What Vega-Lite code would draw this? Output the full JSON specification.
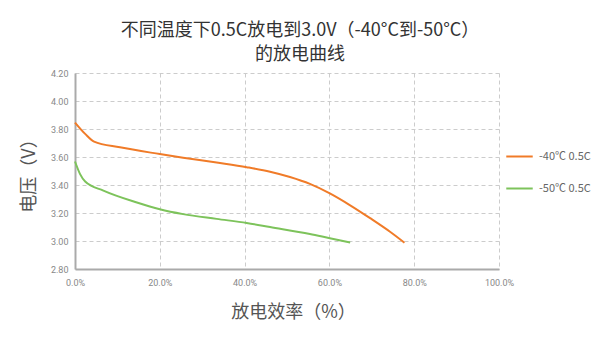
{
  "$schema": "https://vega.github.io/schema/vega-lite/v6.json",
  "width": 424,
  "height": 196,
  "autosize": {"type": "none"},
  "padding": {"left": 75, "top": 73, "right": 101, "bottom": 82},
  "background": "#ffffff",
  "title": {
    "text": "不同温度下0.5C放电到3.0V（-40°C到-50°C）",
    "subtitle": "的放电曲线",
    "anchor": "middle",
    "frame": "group",
    "dx": 13,
    "offset": 5,
    "font": "Noto Sans CJK SC",
    "fontSize": 18,
    "fontWeight": "normal",
    "color": "#333333",
    "subtitleFont": "Noto Sans CJK SC",
    "subtitleFontSize": 18,
    "subtitleFontWeight": "normal",
    "subtitleColor": "#333333",
    "subtitlePadding": 6
  },
  "config": {
    "view": {"stroke": null},
    "font": "Noto Sans CJK SC"
  },
  "data": {
    "values": [
      {"series": "-40℃ 0.5C", "eff": 0.0, "v": 3.846},
      {"series": "-40℃ 0.5C", "eff": 0.024, "v": 3.765},
      {"series": "-40℃ 0.5C", "eff": 0.045, "v": 3.71},
      {"series": "-40℃ 0.5C", "eff": 0.106, "v": 3.669},
      {"series": "-40℃ 0.5C", "eff": 0.20, "v": 3.621},
      {"series": "-40℃ 0.5C", "eff": 0.255, "v": 3.595},
      {"series": "-40℃ 0.5C", "eff": 0.334, "v": 3.56},
      {"series": "-40℃ 0.5C", "eff": 0.405, "v": 3.527},
      {"series": "-40℃ 0.5C", "eff": 0.46, "v": 3.495},
      {"series": "-40℃ 0.5C", "eff": 0.507, "v": 3.457},
      {"series": "-40℃ 0.5C", "eff": 0.554, "v": 3.408},
      {"series": "-40℃ 0.5C", "eff": 0.601, "v": 3.34},
      {"series": "-40℃ 0.5C", "eff": 0.649, "v": 3.255},
      {"series": "-40℃ 0.5C", "eff": 0.696, "v": 3.163},
      {"series": "-40℃ 0.5C", "eff": 0.743, "v": 3.066},
      {"series": "-40℃ 0.5C", "eff": 0.777, "v": 2.988},
      {"series": "-50℃ 0.5C", "eff": 0.0, "v": 3.568},
      {"series": "-50℃ 0.5C", "eff": 0.012, "v": 3.478},
      {"series": "-50℃ 0.5C", "eff": 0.024, "v": 3.425},
      {"series": "-50℃ 0.5C", "eff": 0.067, "v": 3.36},
      {"series": "-50℃ 0.5C", "eff": 0.146, "v": 3.275},
      {"series": "-50℃ 0.5C", "eff": 0.20, "v": 3.227},
      {"series": "-50℃ 0.5C", "eff": 0.255, "v": 3.192},
      {"series": "-50℃ 0.5C", "eff": 0.334, "v": 3.158},
      {"series": "-50℃ 0.5C", "eff": 0.405, "v": 3.129},
      {"series": "-50℃ 0.5C", "eff": 0.46, "v": 3.1},
      {"series": "-50℃ 0.5C", "eff": 0.554, "v": 3.05},
      {"series": "-50℃ 0.5C", "eff": 0.601, "v": 3.02},
      {"series": "-50℃ 0.5C", "eff": 0.649, "v": 2.99}
    ]
  },
  "mark": {"type": "line", "strokeWidth": 2, "interpolate": "monotone"},
  "encoding": {
    "x": {
      "field": "eff",
      "type": "quantitative",
      "scale": {"domain": [0, 1], "nice": false},
      "axis": {
        "title": "放电效率（%）",
        "values": [0, 0.2, 0.4, 0.6, 0.8, 1.0],
        "format": ".1%",
        "grid": true,
        "gridDash": [4, 3],
        "gridColor": "#cccccc",
        "domainColor": "#aaaaaa",
        "domainWidth": 2,
        "ticks": false,
        "labelPadding": 9,
        "labelFontSize": 9,
        "labelColor": "#888888",
        "labelFont": "Roboto",
        "titleFontSize": 18,
        "titleFontWeight": "normal",
        "titleColor": "#555555",
        "titlePadding": 16,
        "titleX": 218,
        "labelFlush": false
      }
    },
    "y": {
      "field": "v",
      "type": "quantitative",
      "scale": {"domain": [2.8, 4.2], "nice": false, "zero": false},
      "axis": {
        "title": "电压（V）",
        "values": [2.8, 3.0, 3.2, 3.4, 3.6, 3.8, 4.0, 4.2],
        "format": ".2f",
        "grid": true,
        "gridDash": [4, 3],
        "gridColor": "#cccccc",
        "domainColor": "#aaaaaa",
        "domainWidth": 2,
        "ticks": false,
        "labelPadding": 7,
        "labelFontSize": 9,
        "labelColor": "#888888",
        "labelFont": "Roboto",
        "titleFontSize": 18,
        "titleFontWeight": "normal",
        "titleColor": "#555555",
        "titlePadding": 12
      }
    },
    "color": {
      "field": "series",
      "type": "nominal",
      "scale": {"domain": ["-40℃ 0.5C", "-50℃ 0.5C"], "range": ["#f07b28", "#7dc35b"]},
      "legend": {
        "title": null,
        "orient": "none",
        "legendX": 430,
        "legendY": 69,
        "symbolType": "stroke",
        "symbolSize": 700,
        "symbolStrokeWidth": 2,
        "rowPadding": 12,
        "labelFontSize": 11,
        "labelColor": "#666666",
        "labelOffset": 5
      }
    }
  }
}
